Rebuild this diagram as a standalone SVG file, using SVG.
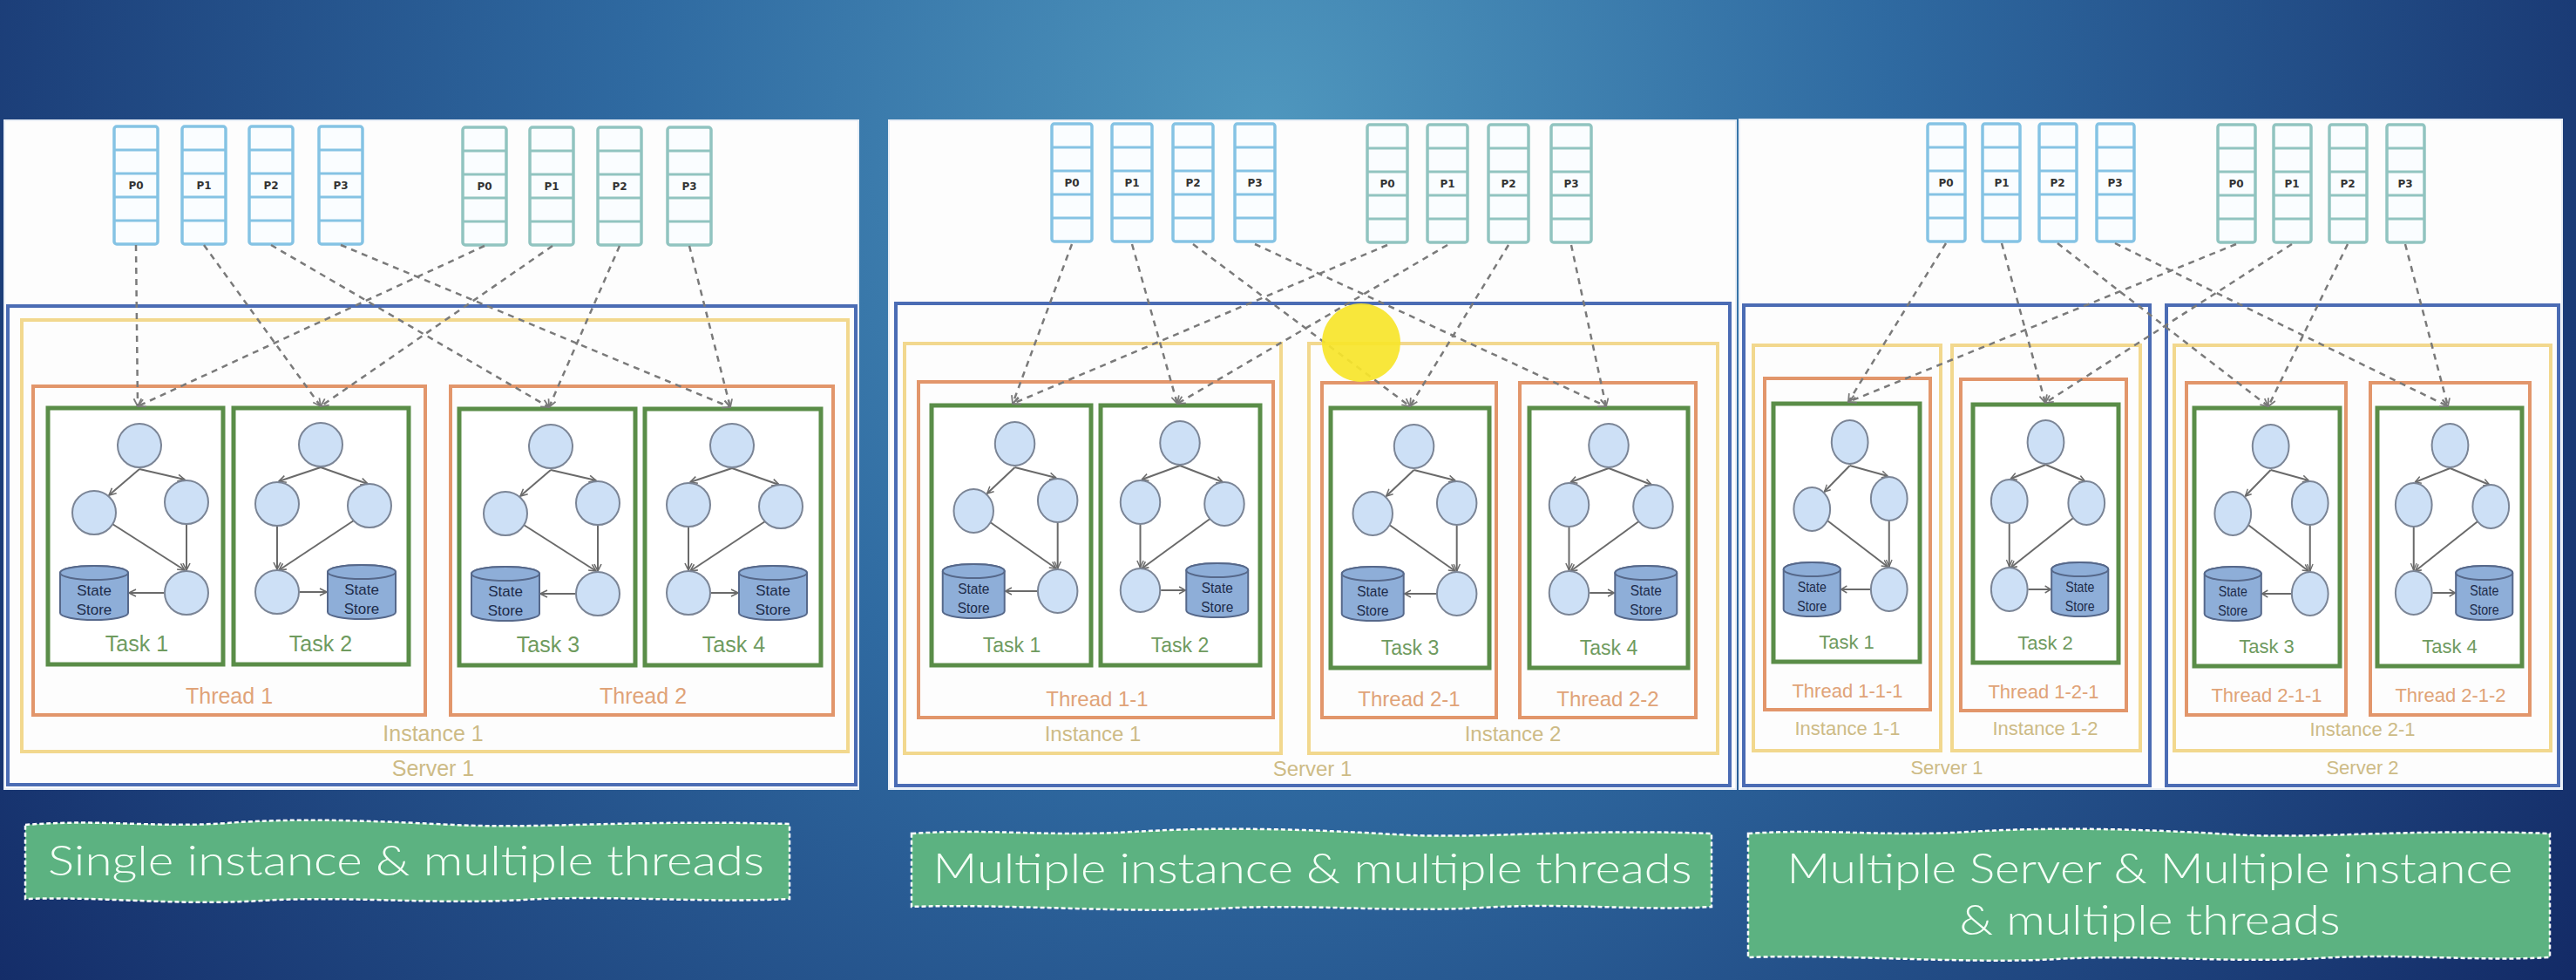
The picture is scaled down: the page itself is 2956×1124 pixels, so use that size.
<svg xmlns="http://www.w3.org/2000/svg" xmlns:xlink="http://www.w3.org/1999/xlink" width="2956" height="1124" viewBox="0 0 2956 1124">
<style>
.panel{fill:#fdfdfd;stroke:#e8eef6;stroke-width:2}
.srv{fill:none;stroke:#4b6cb4;stroke-width:4}
.ins{fill:none;stroke:#f2d88e;stroke-width:4}
.thr{fill:none;stroke:#e2966b;stroke-width:4}
.tsk{fill:#ffffff;stroke:#5a8d48;stroke-width:5}
.c{fill:#cde0f6;stroke:#7b8596;stroke-width:2;vector-effect:non-scaling-stroke}
.a{fill:none;stroke:#6a6a6a;stroke-width:2;marker-end:url(#ah);vector-effect:non-scaling-stroke}
.cy{fill:#8eaed8;stroke:#56688a;stroke-width:2;vector-effect:non-scaling-stroke}
.st{font-family:"Liberation Sans",Arial,sans-serif;font-size:17px;fill:#1d2b4a;text-anchor:middle}
.pl{font-family:"DejaVu Sans",sans-serif;font-weight:bold;font-size:12px;fill:#333;text-anchor:middle}
.lt{font-family:"Liberation Sans",Arial,sans-serif;text-anchor:middle}
.tl{fill:#6f9b5f}
.hl{fill:#e0a378}
.il{fill:#cdbb86}
.dc{fill:none;stroke:#7a7a7a;stroke-width:2.5;stroke-dasharray:7 6;marker-end:url(#ahd)}
.cap{fill:#5cb281;stroke:#ffffff;stroke-width:2.5;stroke-dasharray:5 3}
.ct{font-family:Lato,"Open Sans",sans-serif;font-weight:300;font-size:48px;fill:#f4fff6;text-anchor:middle}
</style>
<defs>
<radialGradient id="bg" cx="1450" cy="150" r="1800" gradientUnits="userSpaceOnUse">
<stop offset="0" stop-color="#4f97be"/>
<stop offset="0.4" stop-color="#2f6aa1"/>
<stop offset="1" stop-color="#132a66"/>
</radialGradient>
<marker id="ah" viewBox="0 0 10 10" refX="9" refY="5" markerWidth="10" markerHeight="10" markerUnits="userSpaceOnUse" orient="auto"><path d="M1,1 L9,5 L1,9" fill="none" stroke="#6a6a6a" stroke-width="1.6"/></marker>
<marker id="ahd" viewBox="0 0 10 10" refX="9" refY="5" markerWidth="11" markerHeight="11" markerUnits="userSpaceOnUse" orient="auto"><path d="M1,1 L9,5 L1,9" fill="none" stroke="#7a7a7a" stroke-width="1.6" stroke-dasharray="none"/></marker>
<g id="q"><rect x="0" y="0" width="50" height="135" rx="3" fill="#fafdff" stroke="currentColor" stroke-width="3.5" vector-effect="non-scaling-stroke"/><path d="M0,27H50M0,54H50M0,81H50M0,108H50" stroke="currentColor" stroke-width="3" vector-effect="non-scaling-stroke"/></g>
<g id="taskA">
<path class="a" d="M105,70L70,100"/>
<path class="a" d="M105,70L157,82"/>
<path class="a" d="M74,133L157,186"/>
<path class="a" d="M159,134L159,186"/>
<path class="a" d="M133,212L93,212"/>
<circle class="c" cx="105" cy="43" r="25"/>
<circle class="c" cx="53" cy="120" r="25"/>
<circle class="c" cx="159" cy="108" r="25"/>
<circle class="c" cx="159" cy="212" r="25"/>
<path class="cy" d="M14,189A39,8 0 0 1 92,189V235A39,8 0 0 1 14,235Z"/>
<ellipse class="cy" cx="53" cy="189" rx="39" ry="8"/>
<text class="st" x="53" y="215">State</text>
<text class="st" x="53" y="237">Store</text>
</g>
<g id="taskB">
<path class="a" d="M100,68L52,84"/>
<path class="a" d="M100,68L154,87"/>
<path class="a" d="M50,136L50,185"/>
<path class="a" d="M138,129L52,186"/>
<path class="a" d="M76,211L107,211"/>
<circle class="c" cx="100" cy="42" r="25"/>
<circle class="c" cx="50" cy="110" r="25"/>
<circle class="c" cx="156" cy="112" r="25"/>
<circle class="c" cx="50" cy="211" r="25"/>
<path class="cy" d="M108,188A39,8 0 0 1 186,188V234A39,8 0 0 1 108,234Z"/>
<ellipse class="cy" cx="147" cy="188" rx="39" ry="8"/>
<text class="st" x="147" y="214">State</text>
<text class="st" x="147" y="236">Store</text>
</g>
</defs>

<rect x="0" y="0" width="2956" height="1124" fill="url(#bg)"/>

<!-- ================= PANEL 1 ================= -->
<g id="panel1">
<rect class="panel" x="5" y="138" width="980" height="767"/>
<g id="p1-topicA" color="#85c3e4">
<use xlink:href="#q" x="131" y="145"/><use xlink:href="#q" x="209" y="145"/><use xlink:href="#q" x="286" y="145"/><use xlink:href="#q" x="366" y="145"/>
<text class="pl" x="156" y="217">P0</text><text class="pl" x="234" y="217">P1</text><text class="pl" x="311" y="217">P2</text><text class="pl" x="391" y="217">P3</text>
</g>
<g id="p1-topicB" color="#91c4c0">
<use xlink:href="#q" x="531" y="146"/><use xlink:href="#q" x="608" y="146"/><use xlink:href="#q" x="686" y="146"/><use xlink:href="#q" x="766" y="146"/>
<text class="pl" x="556" y="218">P0</text><text class="pl" x="633" y="218">P1</text><text class="pl" x="711" y="218">P2</text><text class="pl" x="791" y="218">P3</text>
</g>
<g id="p1-server1"><rect class="srv" x="9" y="351" width="973" height="549"/><text class="lt il" x="497" y="890" font-size="25">Server  1</text></g>
<g id="p1-instance1"><rect class="ins" x="25" y="367" width="948" height="495"/><text class="lt il" x="497" y="850" font-size="25">Instance 1</text></g>
<g id="p1-thread1"><rect class="thr" x="38" y="443" width="450" height="377"/><text class="lt hl" x="263" y="807" font-size="25">Thread 1</text></g>
<g id="p1-thread2"><rect class="thr" x="517" y="443" width="439" height="377"/><text class="lt hl" x="738" y="807" font-size="25">Thread 2</text></g>
<g id="p1-task1"><rect class="tsk" x="55" y="468" width="201" height="294"/><use xlink:href="#taskA" transform="translate(55,468)"/><text class="lt tl" x="157" y="747" font-size="25">Task 1</text></g>
<g id="p1-task2"><rect class="tsk" x="268" y="468" width="201" height="294"/><use xlink:href="#taskB" transform="translate(268,468)"/><text class="lt tl" x="368" y="747" font-size="25">Task 2</text></g>
<g id="p1-task3"><rect class="tsk" x="527" y="469" width="202" height="294"/><use xlink:href="#taskA" transform="translate(527,469)"/><text class="lt tl" x="629" y="748" font-size="25">Task 3</text></g>
<g id="p1-task4"><rect class="tsk" x="740" y="469" width="202" height="294"/><use xlink:href="#taskB" transform="translate(740,469)"/><text class="lt tl" x="842" y="748" font-size="25">Task 4</text></g>
</g>

<!-- ================= PANEL 2 ================= -->
<g id="panel2">
<rect class="panel" x="1020" y="138" width="972" height="767"/>
<g id="p2-topicA" color="#85c3e4">
<use xlink:href="#q" transform="translate(1207,142) scale(0.92,1)"/><use xlink:href="#q" transform="translate(1276,142) scale(0.92,1)"/><use xlink:href="#q" transform="translate(1346,142) scale(0.92,1)"/><use xlink:href="#q" transform="translate(1417,142) scale(0.92,1)"/>
<text class="pl" x="1230" y="214">P0</text><text class="pl" x="1299" y="214">P1</text><text class="pl" x="1369" y="214">P2</text><text class="pl" x="1440" y="214">P3</text>
</g>
<g id="p2-topicB" color="#91c4c0">
<use xlink:href="#q" transform="translate(1569,143) scale(0.92,1)"/><use xlink:href="#q" transform="translate(1638,143) scale(0.92,1)"/><use xlink:href="#q" transform="translate(1708,143) scale(0.92,1)"/><use xlink:href="#q" transform="translate(1780,143) scale(0.92,1)"/>
<text class="pl" x="1592" y="215">P0</text><text class="pl" x="1661" y="215">P1</text><text class="pl" x="1731" y="215">P2</text><text class="pl" x="1803" y="215">P3</text>
</g>
<g id="p2-server1"><rect class="srv" x="1028" y="348" width="957" height="553"/><text class="lt il" x="1506" y="890" font-size="24">Server 1</text></g>
<g id="p2-instance1"><rect class="ins" x="1038" y="394" width="432" height="470"/><text class="lt il" x="1254" y="850" font-size="24">Instance 1</text></g>
<g id="p2-instance2"><rect class="ins" x="1502" y="394" width="469" height="470"/><text class="lt il" x="1736" y="850" font-size="24">Instance 2</text></g>
<g id="p2-thread11"><rect class="thr" x="1054" y="438" width="407" height="385"/><text class="lt hl" x="1259" y="810" font-size="24">Thread 1-1</text></g>
<g id="p2-thread21"><rect class="thr" x="1517" y="439" width="200" height="384"/><text class="lt hl" x="1617" y="810" font-size="24">Thread 2-1</text></g>
<g id="p2-thread22"><rect class="thr" x="1744" y="439" width="202" height="384"/><text class="lt hl" x="1845" y="810" font-size="24">Thread 2-2</text></g>
<g id="p2-task1"><rect class="tsk" x="1069" y="465" width="183" height="298"/><use xlink:href="#taskA" transform="translate(1069,466) scale(0.91,1)"/><text class="lt tl" x="1161" y="748" font-size="23">Task 1</text></g>
<g id="p2-task2"><rect class="tsk" x="1263" y="465" width="183" height="298"/><use xlink:href="#taskB" transform="translate(1263,466) scale(0.91,1)"/><text class="lt tl" x="1354" y="748" font-size="23">Task 2</text></g>
<g id="p2-task3"><rect class="tsk" x="1527" y="468" width="182" height="298"/><use xlink:href="#taskA" transform="translate(1527,469) scale(0.91,1)"/><text class="lt tl" x="1618" y="751" font-size="23">Task 3</text></g>
<g id="p2-task4"><rect class="tsk" x="1755" y="468" width="182" height="298"/><use xlink:href="#taskB" transform="translate(1755,469) scale(0.91,1)"/><text class="lt tl" x="1846" y="751" font-size="23">Task 4</text></g>
</g>

<!-- ================= PANEL 3 ================= -->
<g id="panel3">
<rect class="panel" x="1996" y="137" width="944" height="768"/>
<g id="p3-topicA" color="#85c3e4">
<use xlink:href="#q" transform="translate(2212,142) scale(0.86,1)"/><use xlink:href="#q" transform="translate(2275,142) scale(0.86,1)"/><use xlink:href="#q" transform="translate(2340,142) scale(0.86,1)"/><use xlink:href="#q" transform="translate(2406,142) scale(0.86,1)"/>
<text class="pl" x="2233" y="214">P0</text><text class="pl" x="2297" y="214">P1</text><text class="pl" x="2361" y="214">P2</text><text class="pl" x="2427" y="214">P3</text>
</g>
<g id="p3-topicB" color="#91c4c0">
<use xlink:href="#q" transform="translate(2545,143) scale(0.86,1)"/><use xlink:href="#q" transform="translate(2609,143) scale(0.86,1)"/><use xlink:href="#q" transform="translate(2673,143) scale(0.86,1)"/><use xlink:href="#q" transform="translate(2739,143) scale(0.86,1)"/>
<text class="pl" x="2566" y="215">P0</text><text class="pl" x="2630" y="215">P1</text><text class="pl" x="2694" y="215">P2</text><text class="pl" x="2760" y="215">P3</text>
</g>
<g id="p3-server1"><rect class="srv" x="2001" y="350" width="466" height="551"/><text class="lt il" x="2234" y="888" font-size="22">Server 1</text></g>
<g id="p3-server2"><rect class="srv" x="2486" y="350" width="450" height="551"/><text class="lt il" x="2711" y="888" font-size="22">Server 2</text></g>
<g id="p3-instance11"><rect class="ins" x="2012" y="396" width="215" height="465"/><text class="lt il" x="2120" y="843" font-size="22">Instance 1-1</text></g>
<g id="p3-instance12"><rect class="ins" x="2240" y="396" width="216" height="465"/><text class="lt il" x="2347" y="843" font-size="22">Instance 1-2</text></g>
<g id="p3-instance21"><rect class="ins" x="2495" y="396" width="432" height="465"/><text class="lt il" x="2711" y="844" font-size="22">Instance 2-1</text></g>
<g id="p3-thread111"><rect class="thr" x="2025" y="434" width="190" height="380"/><text class="lt hl" x="2120" y="800" font-size="22">Thread 1-1-1</text></g>
<g id="p3-thread121"><rect class="thr" x="2250" y="435" width="190" height="380"/><text class="lt hl" x="2345" y="801" font-size="22">Thread 1-2-1</text></g>
<g id="p3-thread211"><rect class="thr" x="2509" y="439" width="183" height="381"/><text class="lt hl" x="2601" y="805" font-size="22">Thread 2-1-1</text></g>
<g id="p3-thread212"><rect class="thr" x="2720" y="439" width="183" height="381"/><text class="lt hl" x="2812" y="805" font-size="22">Thread 2-1-2</text></g>
<g id="p3-task1"><rect class="tsk" x="2035" y="463" width="168" height="296"/><use xlink:href="#taskA" transform="translate(2035,464) scale(0.835,1)"/><text class="lt tl" x="2119" y="744" font-size="22">Task 1</text></g>
<g id="p3-task2"><rect class="tsk" x="2264" y="464" width="167" height="296"/><use xlink:href="#taskB" transform="translate(2264,465) scale(0.835,1)"/><text class="lt tl" x="2347" y="745" font-size="22">Task 2</text></g>
<g id="p3-task3"><rect class="tsk" x="2518" y="468" width="167" height="296"/><use xlink:href="#taskA" transform="translate(2518,469) scale(0.835,1)"/><text class="lt tl" x="2601" y="749" font-size="22">Task 3</text></g>
<g id="p3-task4"><rect class="tsk" x="2728" y="468" width="166" height="296"/><use xlink:href="#taskB" transform="translate(2728,469) scale(0.835,1)"/><text class="lt tl" x="2811" y="749" font-size="22">Task 4</text></g>
</g>

<!-- ================= CONNECTORS ================= -->
<g id="connectors">
<path class="dc" d="M156,281L158,466"/>
<path class="dc" d="M556,282L158,466"/>
<path class="dc" d="M234,281L368,466"/>
<path class="dc" d="M634,282L368,466"/>
<path class="dc" d="M311,281L630,467"/>
<path class="dc" d="M711,282L630,467"/>
<path class="dc" d="M391,281L838,467"/>
<path class="dc" d="M791,282L838,467"/>

<path class="dc" d="M1230,280L1162,463"/>
<path class="dc" d="M1592,281L1162,463"/>
<path class="dc" d="M1299,280L1351,463"/>
<path class="dc" d="M1661,281L1351,463"/>
<path class="dc" d="M1369,280L1618,466"/>
<path class="dc" d="M1731,281L1618,466"/>
<path class="dc" d="M1440,280L1843,466"/>
<path class="dc" d="M1803,281L1843,466"/>

<path class="dc" d="M2233,279L2121,461"/>
<path class="dc" d="M2566,280L2121,461"/>
<path class="dc" d="M2297,279L2347,462"/>
<path class="dc" d="M2630,280L2347,462"/>
<path class="dc" d="M2361,279L2603,466"/>
<path class="dc" d="M2694,280L2603,466"/>
<path class="dc" d="M2427,279L2809,466"/>
<path class="dc" d="M2760,280L2809,466"/>
</g>

<circle id="cursor-highlight" cx="1562" cy="393" r="45" fill="#f7e52a" opacity="0.92"/>

<!-- ================= CAPTIONS ================= -->
<g id="caption1">
<path class="cap" d="M29,946 C120,939 180,950 260,944 S420,941 520,946 S720,940 906,945 L906,1031 C800,1036 700,1026 600,1032 S400,1027 300,1033 S120,1028 29,1031 Z"/>
<text class="ct" x="466" y="1004" textLength="822" lengthAdjust="spacingAndGlyphs">Single instance &amp; multiple threads</text>
</g>
<g id="caption2">
<path class="cap" d="M1046,956 C1140,950 1200,960 1300,954 S1500,951 1600,957 S1800,950 1964,956 L1964,1040 C1880,1045 1800,1035 1700,1041 S1500,1036 1400,1042 S1150,1036 1046,1040 Z"/>
<text class="ct" x="1506" y="1013" textLength="871" lengthAdjust="spacingAndGlyphs">Multiple instance &amp; multiple threads</text>
</g>
<g id="caption3">
<path class="cap" d="M2006,956 C2100,950 2160,960 2260,954 S2460,951 2560,957 S2760,950 2926,956 L2926,1098 C2840,1103 2760,1093 2660,1099 S2460,1094 2360,1100 S2110,1094 2006,1098 Z"/>
<text class="ct" x="2467" y="1013" textLength="833" lengthAdjust="spacingAndGlyphs">Multiple Server &amp; Multiple instance</text>
<text class="ct" x="2467" y="1072" textLength="437" lengthAdjust="spacingAndGlyphs">&amp; multiple threads</text>
</g>
</svg>
